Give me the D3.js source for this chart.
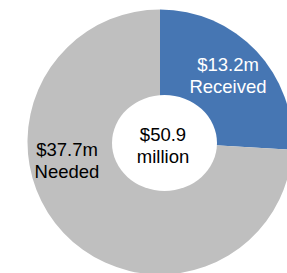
<!DOCTYPE html>
<html>
<head>
<meta charset="utf-8">
<script src="https://cdn.jsdelivr.net/npm/d3@7"></script>
<style>
  html, body { margin: 0; padding: 0; background: #fff; }
  svg { display: block; }
  text { font-family: "Liberation Sans", Arial, sans-serif; font-size: 18.5px; }
</style>
</head>
<body>
<svg id="chart" width="287" height="273"></svg>
<script>
// funding split, in $ millions
var categories = ['Received', 'Needed'];
var values = [13.2, 37.7];
var valueLabels = ['$13.2m', '$37.7m'];
var totalLabel = ['$50.9', 'million'];

var width = 287, height = 273;
var cx = 160, cy = 142, radius = 132.5;

var colorScale = d3.scaleOrdinal()
  .domain(categories)
  .range(['#4676b3', '#bfbfbf']);

var svg = d3.select('#chart');
var g = svg.append('g').attr('transform', 'translate(' + cx + ',' + cy + ')');

var pie = d3.pie().sort(null).value(function(d) { return d; });
var arc = d3.arc().innerRadius(0).outerRadius(radius);

var slices = pie(values);

g.selectAll('path.slice')
  .data(slices)
  .enter()
  .append('path')
  .attr('class', 'slice')
  .attr('d', arc)
  .attr('fill', function(d, i) { return colorScale(categories[i]); });

// white hole (slightly oval, like the original)
g.append('ellipse')
  .attr('cx', 4.5)
  .attr('cy', 1)
  .attr('rx', 52.5)
  .attr('ry', 48)
  .attr('fill', '#fff');

// slice labels
var labelPos = [[68, -71], [-93, 14]];
var labelColor = ['#fff', '#000'];

slices.forEach(function(s, i) {
  var t = g.append('text')
    .attr('text-anchor', 'middle')
    .attr('fill', labelColor[i])
    .attr('x', labelPos[i][0])
    .attr('y', labelPos[i][1]);
  t.append('tspan').attr('x', labelPos[i][0]).text(valueLabels[i]);
  t.append('tspan').attr('x', labelPos[i][0]).attr('dy', 22).text(categories[i]);
});

// total in the middle
var c = g.append('text')
  .attr('text-anchor', 'middle')
  .attr('fill', '#000')
  .attr('x', 3)
  .attr('y', -1);
c.append('tspan').attr('x', 3).text(totalLabel[0]);
c.append('tspan').attr('x', 3).attr('dy', 22).text(totalLabel[1]);
</script>
</body>
</html>
